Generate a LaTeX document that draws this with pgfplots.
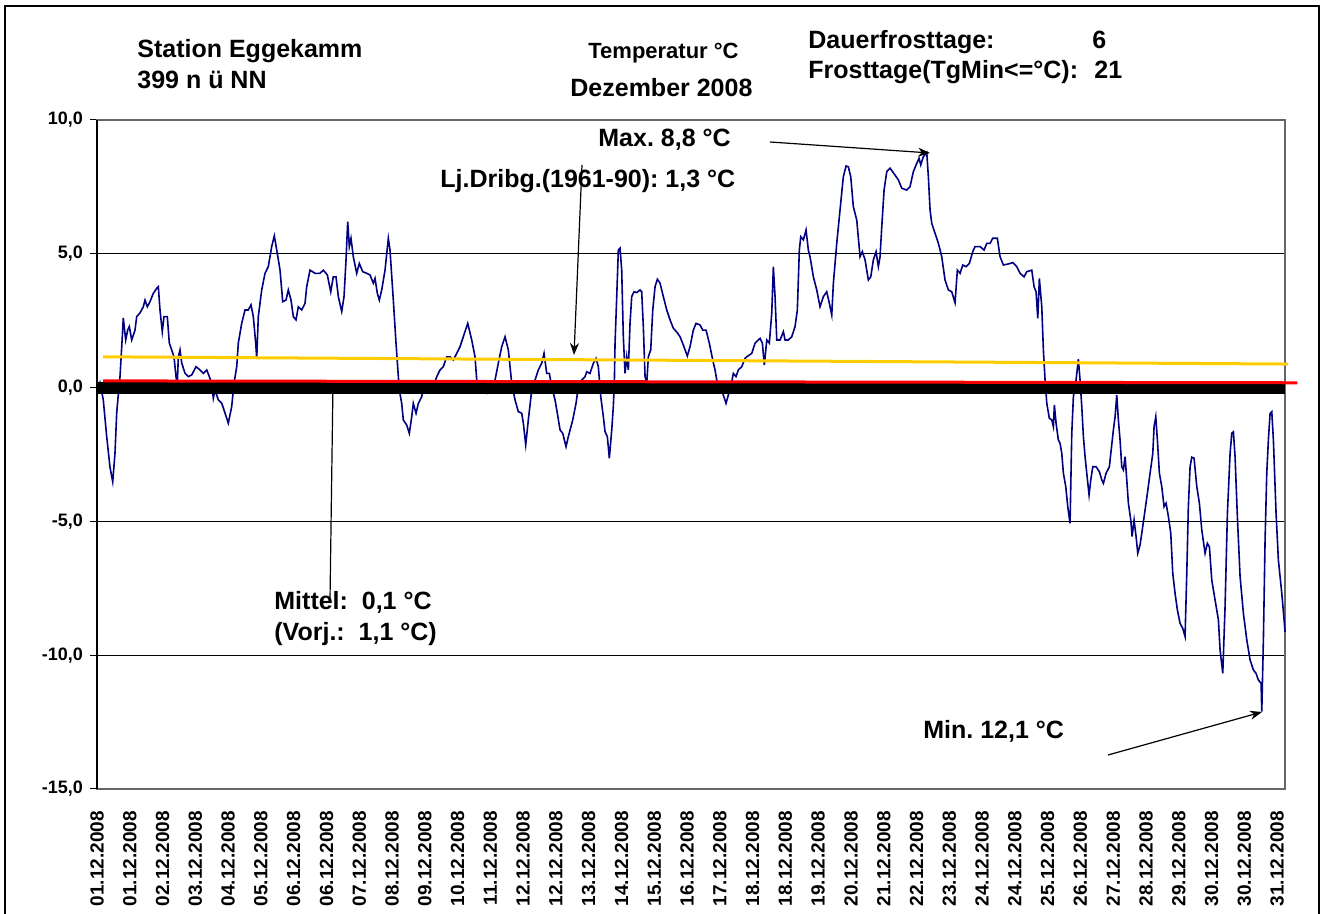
\documentclass[border=0pt]{standalone}
\usepackage{fontspec}
\setmainfont{Liberation Sans}
\usepackage{pgfplots}
\pgfplotsset{compat=1.18}
\usetikzlibrary{arrows.meta}
\definecolor{navyline}{HTML}{000080}
\definecolor{yel}{HTML}{FFCC00}
\frenchspacing
\begin{document}
\begin{tikzpicture}[x=1pt,y=1pt]
\path[use as bounding box] (0,0) rectangle (664,457);
\draw[black, line width=1.1pt] (2.5,-10) -- (2.5,454) -- (659.5,454) -- (659.5,-10);
\begin{axis}[
  at={(48.5pt,62.5pt)}, anchor=south west,
  scale only axis, width=594pt, height=334.5pt,
  xmin=0, xmax=31, ymin=-15, ymax=10,
  ytick={-15,-10,-5,0,5,10},
  yticklabels={{-15,0},{-10,0},{-5,0},{0,0},{5,0},{10,0}},
  xtick={0,0.855,1.711,2.566,3.422,4.277,5.132,5.988,6.843,7.699,8.554,9.409,10.265,11.120,11.976,12.831,13.686,14.542,15.397,16.253,17.108,17.963,18.819,19.674,20.530,21.385,22.240,23.096,23.951,24.807,25.662,26.517,27.373,28.228,29.084,29.939,30.794},
  xticklabels={01.12.2008,01.12.2008,02.12.2008,03.12.2008,04.12.2008,05.12.2008,06.12.2008,06.12.2008,07.12.2008,08.12.2008,09.12.2008,10.12.2008,11.12.2008,12.12.2008,12.12.2008,13.12.2008,14.12.2008,15.12.2008,16.12.2008,17.12.2008,18.12.2008,18.12.2008,19.12.2008,20.12.2008,21.12.2008,22.12.2008,23.12.2008,24.12.2008,24.12.2008,25.12.2008,26.12.2008,27.12.2008,28.12.2008,29.12.2008,30.12.2008,30.12.2008,31.12.2008},
  xticklabel style={font=\fontsize{9.5}{10}\selectfont\bfseries, rotate=90, anchor=east},
  xticklabel shift=4pt,
  yticklabel style={font=\fontsize{9}{10}\selectfont\bfseries},
  xtick style={draw=none},
  ytick style={black, line width=0.5pt},
  ytick pos=left,
  tick align=outside, major tick length=3.5pt,
  ymajorgrids, grid style={black, line width=0.5pt},
  axis line style={draw=gray!80!black, line width=0.8pt},
  clip=false,
]
\addplot[navyline, line width=0.8pt] coordinates {
(0,-0.28)(0.078,0.17)(0.164,-0.46)(0.253,-1.83)(0.339,-2.97)(0.410,-3.52)(0.470,-2.44)(0.514,-0.95)(0.582,0.17)(0.600,0.40)
(0.660,1.90)(0.686,2.60)(0.749,1.78)(0.801,2.15)(0.843,2.28)(0.906,1.78)(0.992,2.15)(1.036,2.65)(1.122,2.79)(1.208,3.02)
(1.253,3.27)(1.313,3.02)(1.383,3.21)(1.469,3.52)(1.558,3.71)(1.600,3.77)(1.644,2.90)(1.704,2.09)(1.748,2.65)(1.835,2.65)
(1.887,1.66)(1.949,1.41)(2.009,1.15)(2.062,0.41)(2.095,0.10)(2.122,1.15)(2.166,1.41)(2.210,0.92)(2.296,0.54)(2.383,0.41)
(2.471,0.47)(2.584,0.78)(2.688,0.66)(2.774,0.53)(2.863,0.66)(2.931,0.41)(2.993,0.16)(3.035,-0.40)(3.079,-0.09)(3.165,-0.46)
(3.254,-0.58)(3.340,-0.95)(3.426,-1.33)(3.515,-0.71)(3.575,0.16)(3.646,0.78)(3.687,1.66)(3.776,2.40)(3.862,2.90)(3.948,2.90)
(4.019,3.09)(4.079,2.65)(4.141,1.66)(4.168,1.09)(4.209,2.65)(4.298,3.65)(4.384,4.27)(4.470,4.52)(4.559,5.27)(4.627,5.67)
(4.690,5.14)(4.776,4.39)(4.846,3.21)(4.932,3.27)(4.992,3.65)(5.063,3.27)(5.123,2.65)(5.193,2.53)(5.253,3.02)(5.342,2.90)
(5.428,3.15)(5.472,3.77)(5.559,4.39)(5.689,4.27)(5.819,4.27)(5.906,4.39)(6.010,4.21)(6.099,3.58)(6.166,4.14)(6.237,4.14)
(6.297,3.40)(6.386,2.84)(6.446,3.40)(6.498,4.77)(6.542,6.20)(6.584,5.27)(6.628,5.58)(6.688,4.89)(6.777,4.27)(6.845,4.64)
(6.934,4.33)(7.038,4.27)(7.124,4.21)(7.210,3.90)(7.255,4.08)(7.315,3.52)(7.367,3.27)(7.430,3.65)(7.516,4.39)(7.602,5.58)
(7.646,5.14)(7.732,3.27)(7.803,1.66)(7.863,0.41)(7.889,-0.09)(7.951,-0.59)(7.993,-1.21)(8.082,-1.40)(8.150,-1.71)(8.212,-1.09)
(8.254,-0.59)(8.325,-0.96)(8.385,-0.59)(8.473,-0.34)(8.515,0.03)(8.604,0.10)(8.690,0.10)(8.776,0.03)(8.865,0.41)(8.951,0.66)
(9.037,0.78)(9.126,1.15)(9.212,1.15)(9.298,1.03)(9.387,1.28)(9.473,1.53)(9.559,1.90)(9.674,2.40)(9.778,1.78)(9.864,1.15)
(9.909,0.28)(9.995,0.03)(10.081,-0.09)(10.170,-0.21)(10.256,0.16)(10.300,0.16)(10.386,0.28)(10.472,0.91)(10.561,1.53)(10.647,1.90)
(10.733,1.41)(10.822,0.16)(10.908,-0.46)(10.994,-0.90)(11.083,-0.96)(11.125,-1.33)(11.187,-2.14)(11.255,-1.21)(11.344,-0.09)(11.430,0.28)
(11.516,0.66)(11.605,0.91)(11.665,1.28)(11.735,0.53)(11.803,0.53)(11.866,0.03)(11.952,-0.46)(12.012,-0.96)(12.083,-1.58)(12.153,-1.71)
(12.239,-2.21)(12.299,-1.83)(12.414,-1.21)(12.500,-0.59)(12.560,0.03)(12.649,0.28)(12.735,0.41)(12.779,0.59)(12.865,0.53)(12.952,0.91)
(13.022,1.09)(13.082,0.78)(13.145,-0.34)(13.213,-1.09)(13.257,-1.65)(13.317,-1.83)(13.369,-2.64)(13.432,-1.58)(13.473,-0.71)(13.500,0.16)
(13.518,1.66)(13.562,3.40)(13.604,5.14)(13.648,5.21)(13.692,4.39)(13.734,1.90)(13.779,0.53)(13.823,1.15)(13.865,0.66)(13.909,2.40)
(13.953,3.40)(14.013,3.58)(14.084,3.55)(14.170,3.65)(14.214,3.58)(14.256,2.28)(14.301,0.41)(14.345,0.16)(14.387,1.15)(14.449,1.41)
(14.502,2.90)(14.562,3.77)(14.622,4.05)(14.692,3.90)(14.778,3.40)(14.867,2.90)(14.953,2.53)(15.039,2.22)(15.143,2.05)(15.214,1.90)
(15.300,1.59)(15.404,1.18)(15.475,1.53)(15.561,2.15)(15.631,2.40)(15.736,2.34)(15.806,2.15)(15.892,2.15)(15.978,1.66)(16.067,1.03)
(16.127,0.66)(16.187,0.16)(16.258,0.03)(16.344,-0.28)(16.414,-0.59)(16.474,-0.28)(16.537,0.03)(16.605,0.53)(16.675,0.41)(16.735,0.66)
(16.824,0.78)(16.910,1.09)(16.955,1.15)(17.085,1.28)(17.171,1.66)(17.257,1.78)(17.302,1.84)(17.362,1.66)(17.414,0.84)(17.477,1.78)
(17.544,1.66)(17.607,2.78)(17.649,4.52)(17.693,3.40)(17.738,1.78)(17.824,1.78)(17.910,2.09)(17.954,1.78)(18.040,1.78)(18.129,1.90)
(18.215,2.28)(18.275,2.90)(18.327,5.14)(18.364,5.64)(18.432,5.52)(18.502,5.89)(18.562,5.14)(18.606,4.89)(18.693,4.14)(18.781,3.65)
(18.867,3.02)(18.954,3.40)(19.042,3.58)(19.110,3.15)(19.173,2.71)(19.215,3.90)(19.303,5.39)(19.389,6.64)(19.475,7.88)(19.546,8.28)
(19.606,8.25)(19.668,7.88)(19.736,6.76)(19.825,6.26)(19.911,4.89)(19.971,5.08)(20.042,4.77)(20.128,4.02)(20.191,4.14)(20.258,4.77)
(20.329,5.08)(20.389,4.52)(20.433,4.89)(20.478,6.01)(20.538,7.38)(20.608,8.07)(20.694,8.20)(20.825,7.94)(20.911,7.76)(21.000,7.45)
(21.130,7.38)(21.216,7.51)(21.302,8.07)(21.391,8.38)(21.451,8.57)(21.495,8.32)(21.563,8.63)(21.652,8.78)(21.694,7.88)(21.738,6.64)
(21.782,6.14)(21.868,5.77)(21.955,5.39)(22.043,4.89)(22.129,4.02)(22.216,3.65)(22.304,3.58)(22.390,3.17)(22.450,4.39)(22.521,4.27)
(22.591,4.58)(22.677,4.52)(22.764,4.64)(22.852,5.08)(22.912,5.27)(23.043,5.27)(23.147,5.14)(23.218,5.39)(23.304,5.39)(23.374,5.58)
(23.494,5.58)(23.565,4.89)(23.651,4.58)(23.781,4.62)(23.896,4.67)(24.001,4.52)(24.086,4.27)(24.191,4.14)(24.261,4.33)(24.392,4.39)
(24.452,3.77)(24.504,3.58)(24.549,2.59)(24.590,4.08)(24.653,3.02)(24.695,1.41)(24.739,0.28)(24.784,-0.59)(24.851,-1.15)(24.914,-1.21)
(24.956,-1.46)(24.982,-0.65)(25.026,-1.33)(25.086,-1.96)(25.131,-2.08)(25.175,-2.46)(25.217,-3.20)(25.279,-3.70)(25.331,-4.45)(25.391,-5.07)
(25.436,-1.71)(25.478,-0.34)(25.548,0.28)(25.608,1.06)(25.652,0.28)(25.697,-0.71)(25.739,-1.83)(25.783,-2.58)(25.827,-3.20)(25.887,-4.01)
(25.932,-3.45)(25.984,-2.96)(26.070,-2.96)(26.156,-3.14)(26.219,-3.45)(26.261,-3.58)(26.331,-3.20)(26.417,-2.96)(26.454,-2.46)(26.522,-1.58)
(26.566,-1.09)(26.610,-0.28)(26.652,-1.21)(26.696,-1.96)(26.741,-2.96)(26.783,-3.08)(26.827,-2.58)(26.871,-3.45)(26.913,-4.32)(26.976,-4.95)
(27.010,-5.57)(27.062,-4.95)(27.114,-5.57)(27.158,-6.19)(27.218,-5.88)(27.263,-5.44)(27.349,-4.57)(27.409,-3.95)(27.479,-3.20)(27.550,-2.46)
(27.584,-1.46)(27.628,-1.09)(27.670,-1.96)(27.722,-3.20)(27.784,-3.70)(27.845,-4.45)(27.897,-4.32)(27.957,-4.82)(28.019,-5.44)(28.071,-6.94)
(28.131,-7.69)(28.192,-8.31)(28.262,-8.81)(28.332,-9.00)(28.392,-9.30)(28.437,-6.94)(28.478,-4.45)(28.523,-2.96)(28.567,-2.60)(28.627,-2.64)
(28.698,-3.70)(28.766,-4.32)(28.828,-5.32)(28.914,-6.19)(28.974,-5.82)(29.027,-5.95)(29.089,-7.19)(29.175,-7.94)(29.262,-8.68)(29.306,-9.81)
(29.376,-10.68)(29.436,-8.19)(29.497,-4.70)(29.567,-2.46)(29.611,-1.71)(29.653,-1.65)(29.697,-2.58)(29.757,-4.82)(29.828,-7.07)(29.914,-8.43)
(30.003,-9.43)(30.089,-10.18)(30.175,-10.55)(30.245,-10.68)(30.305,-10.93)(30.376,-11.05)(30.394,-12.11)(30.436,-9.43)(30.480,-5.70)(30.524,-3.20)
(30.566,-1.96)(30.611,-0.96)(30.655,-0.90)(30.697,-1.96)(30.767,-4.70)(30.827,-6.44)(30.916,-7.69)(30.984,-8.81)(31.0,-9.13)
};
\addplot[black, line width=6pt] coordinates {(0,-0.03)(31,-0.03)};
\addplot[red, line width=1.5pt] coordinates {(0.157,0.25)(31.32,0.18)};
\addplot[yel, line width=1.5pt] coordinates {(0.157,1.15)(31.08,0.88)};
\draw[black, line width=0.8pt] (rel axis cs:0,0) -- (rel axis cs:0,1);
\end{axis}
\begin{scope}[every node/.style={inner sep=0pt, anchor=base west, font=\fontsize{12.5}{14}\selectfont\bfseries}]
\node at (68.5,428) {Station Eggekamm};
\node at (68.5,412.5) {399 n ü NN};
\node[font=\fontsize{11}{13}\selectfont\bfseries] at (294,427.5) {Temperatur °C};
\node at (285,408.5) {Dezember 2008};
\node at (404,432.5) {Dauerfrosttage:};
\node at (546,432.5) {6};
\node at (404,417.5) {Frosttage(TgMin<=°C):};
\node at (547,417.5) {21};
\node at (299,383.5) {Max. 8,8 °C};
\node at (220,363) {Lj.Dribg.(1961-90): 1,3 °C};
\node at (137,152) {Mittel:\ \ 0,1 °C};
\node at (137,136.5) {(Vorj.:\ \ 1,1 °C)};
\node at (461.5,87.5) {Min. 12,1 °C};
\end{scope}
\draw[black, line width=0.6pt, -{Stealth[length=6pt,width=4.5pt]}] (385,386) -- (465,380.5);
\draw[black, line width=0.6pt, -{Stealth[length=6pt,width=4.5pt]}] (291,374.5) -- (287,279.5);
\draw[black, line width=0.6pt] (165,157) -- (166.5,265.5);
\draw[black, line width=0.6pt, -{Stealth[length=6pt,width=4.5pt]}] (554,79.5) -- (631,101);
\end{tikzpicture}
\end{document}
